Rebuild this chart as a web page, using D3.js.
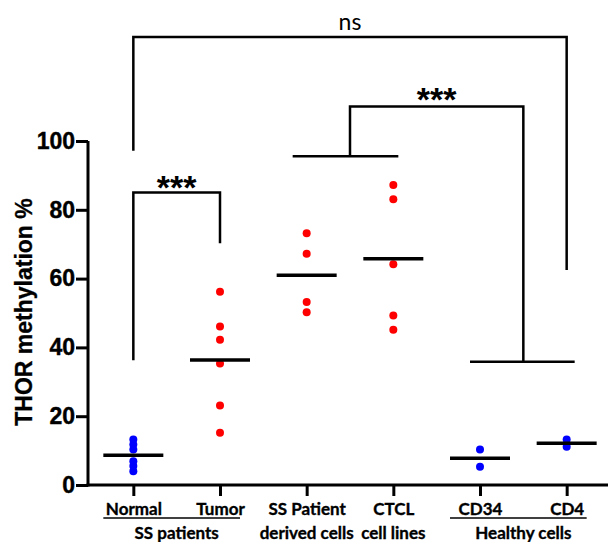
<!DOCTYPE html>
<html>
<head>
<meta charset="utf-8">
<script src="https://cdn.jsdelivr.net/npm/d3@7"></script>
<style>
  body { margin: 0; background: #fff; }
  text { fill: #000; }
</style>
</head>
<body>
<script>
// data
var categories = ['Normal', 'Tumor', 'SS Patient', 'CTCL', 'CD34', 'CD4'];
var secondLine = ['', '', 'derived cells', 'cell lines', '', ''];
var pointColors = ['#0000ff', '#ff0000', '#ff0000', '#ff0000', '#0000ff', '#0000ff'];
var values = [
  [13.2, 11.8, 10.3, 6.9, 5.5, 4.0],
  [56.2, 46.1, 42.2, 35.3, 23.1, 15.2],
  [73.2, 67.2, 53.2, 50.2],
  [87.2, 83.1, 64.2, 49.3, 45.1],
  [10.3, 5.3],
  [13.2, 11.1]
];
var groups = [
  { label: 'SS patients', from: 'Normal', to: 'Tumor' },
  { label: 'Healthy cells', from: 'CD34', to: 'CD4' }
];
var yTicks = [0, 20, 40, 60, 80, 100];

var width = 608, height = 542;
var svg = d3.select('body').append('svg').attr('width', width).attr('height', height);

var x = d3.scalePoint().domain(categories).range([90, 610]).padding(0.5);
var y = d3.scaleLinear().domain([0, 100]).range([485, 141]);

// y axis
var yAxis = svg.append('g').attr('transform', 'translate(88,0)')
  .call(d3.axisLeft(y).tickValues(yTicks).tickSize(12).tickSizeOuter(0).tickPadding(1));
yAxis.select('.domain').attr('stroke-width', 3).attr('d', 'M0,' + (y(0) + 1.5) + 'V' + y(100));
yAxis.selectAll('.tick line').attr('stroke-width', 3);
yAxis.selectAll('.tick text')
  .style('font-family', '"Liberation Sans", Arial, sans-serif')
  .style('font-weight', 'bold').style('font-size', '23px')
  .attr('stroke', '#000').attr('stroke-width', 0.4);

svg.append('text')
  .attr('transform', 'translate(32,' + (y(50) - 1) + ') rotate(-90)')
  .attr('text-anchor', 'middle')
  .style('font-family', '"Liberation Sans", Arial, sans-serif')
  .style('font-weight', 'bold').style('font-size', '23px')
  .attr('stroke', '#000').attr('stroke-width', 0.3)
  .text('THOR methylation %');

// x axis
var xAxis = svg.append('g').attr('transform', 'translate(0,' + y(0) + ')')
  .call(d3.axisBottom(x).tickSize(11).tickPadding(7));
xAxis.select('.domain').remove();
xAxis.selectAll('.tick line').attr('stroke-width', 3);
xAxis.selectAll('.tick text')
  .style('font-family', 'Lato, sans-serif')
  .style('font-weight', 'bold').style('font-size', '17px')
  .attr('stroke', '#000').attr('stroke-width', 0.35);
svg.append('line')
  .attr('x1', 86.5).attr('x2', width).attr('y1', y(0)).attr('y2', y(0))
  .attr('stroke', '#000').attr('stroke-width', 3);

svg.selectAll('.line2').data(categories).enter().append('text')
  .attr('x', function(d) { return x(d); })
  .attr('y', 539)
  .attr('text-anchor', 'middle')
  .style('font-family', 'Lato, sans-serif')
  .style('font-weight', 'bold').style('font-size', '17px')
  .attr('stroke', '#000').attr('stroke-width', 0.35)
  .text(function(d, i) { return secondLine[i]; });

var g = svg.selectAll('.grp').data(groups).enter().append('g');
g.append('line')
  .attr('x1', function(d) { return x(d.from) - 30; })
  .attr('x2', function(d) { return x(d.to) + 20; })
  .attr('y1', 518).attr('y2', 518)
  .attr('stroke', '#000').attr('stroke-width', 1.5);
g.append('text')
  .attr('x', function(d) { return (x(d.from) + x(d.to)) / 2; })
  .attr('y', 539)
  .attr('text-anchor', 'middle')
  .style('font-family', 'Lato, sans-serif')
  .style('font-weight', 'bold').style('font-size', '17px')
  .attr('stroke', '#000').attr('stroke-width', 0.35)
  .text(function(d) { return d.label; });

// points and mean lines
categories.forEach(function(c, i) {
  svg.selectAll('.p' + i).data(values[i]).enter().append('circle')
    .attr('cx', x(c))
    .attr('cy', function(d) { return y(d); })
    .attr('r', 4)
    .attr('fill', pointColors[i]);
  svg.append('line')
    .attr('x1', x(c) - 30).attr('x2', x(c) + 30)
    .attr('y1', y(d3.mean(values[i]))).attr('y2', y(d3.mean(values[i])))
    .attr('stroke', '#000').attr('stroke-width', 3.5);
});

// significance brackets
function path(pts) {
  svg.append('path')
    .attr('d', d3.line()(pts))
    .attr('fill', 'none').attr('stroke', '#000').attr('stroke-width', 2.5);
}
function stars(cx, top) {
  svg.append('text')
    .attr('x', cx).attr('y', top + 24)
    .attr('text-anchor', 'middle')
    .style('font-family', '"Liberation Sans", Arial, sans-serif')
    .style('font-weight', 'bold')
    .style('font-size', '34px')
    .text('***');
}

var xN = x('Normal'), xT = x('Tumor');
path([[xN, y(36.3)], [xN, y(85)], [xT, y(85)], [xT, y(70.3)]]);
stars((xN + xT) / 2, 175);

var xS = x('SS Patient'), xC = x('CTCL');
var midA = (xS + xC) / 2;
path([[xS - 14, y(95.6)], [xC + 5, y(95.6)]]);
var xH1 = x('CD34'), xH2 = x('CD4');
var midB = (xH1 + xH2) / 2;
path([[xH1 - 10, y(35.8)], [xH2 + 8, y(35.8)]]);
path([[midA, y(95.6)], [midA, y(110)], [midB, y(110)], [midB, y(35.8)]]);
stars((midA + midB) / 2, 87);

path([[xN, y(97.2)], [xN, y(130.2)], [xH2, y(130.2)], [xH2, y(62.5)]]);
svg.append('text')
  .attr('x', (xN + xH2) / 2).attr('y', 30)
  .attr('text-anchor', 'middle')
  .style('font-family', 'Lato, sans-serif')
  .style('font-size', '23px')
  .text('ns');
</script>
</body>
</html>
